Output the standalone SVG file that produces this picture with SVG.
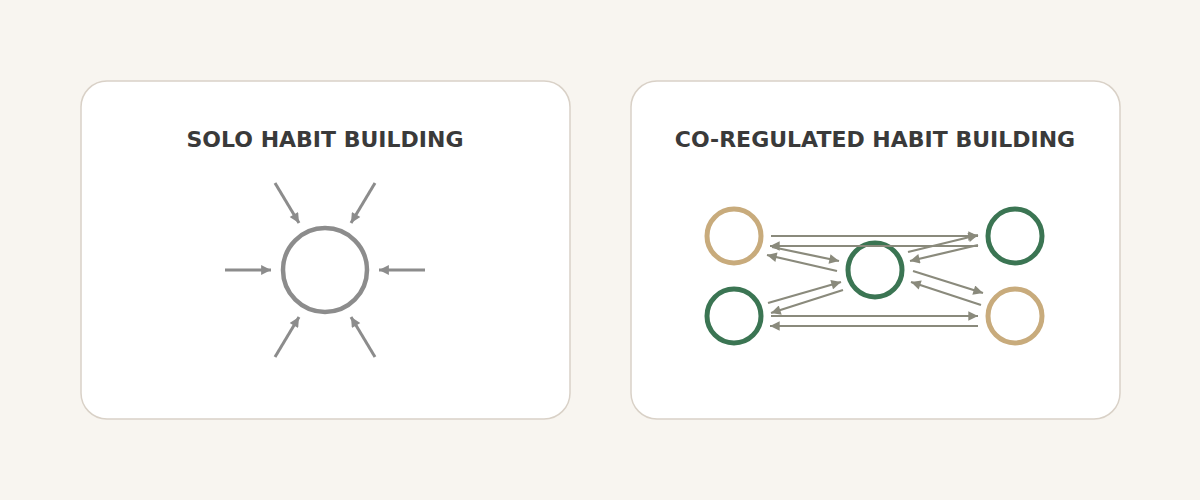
<svg xmlns="http://www.w3.org/2000/svg" width="1200" height="500" viewBox="0 0 1200 500">
<style>
.panel{fill:#ffffff;stroke:#d9d1c7;stroke-width:1.5}
.title{font-family:"DejaVu Sans",sans-serif;font-weight:bold;font-size:22px;fill:#3a3a3a;text-anchor:middle}
.solo{fill:none;stroke:#8c8c8c;stroke-width:4.5}
.sarrow{stroke:#8c8c8c;stroke-width:3;fill:none}
.tan{fill:none;stroke:#c8ab7c;stroke-width:5}
.green{fill:none;stroke:#3b7553;stroke-width:5}
.link{stroke:#8a8a7c;stroke-width:2.2;fill:none}
</style>
<defs>
<marker id="ah" viewBox="0 0 10 10" refX="10" refY="5" markerWidth="3.8" markerHeight="3.3" markerUnits="strokeWidth" orient="auto">
<path d="M0,0 L10,5 L0,10 z" fill="#8c8c8c"/>
</marker>
<marker id="ah2" viewBox="0 0 10 10" refX="10" refY="5" markerWidth="5.6" markerHeight="4.4" markerUnits="strokeWidth" orient="auto">
<path d="M0,0 L10,5 L0,10 z" fill="#8a8a7c"/>
</marker>
</defs>
<rect width="1200" height="500" fill="#f8f5f0"/>
<g id="panel-solo">
<rect class="panel" x="81" y="81" width="489" height="338" rx="26"/>
<text class="title" x="325" y="147">SOLO HABIT BUILDING</text>
</g>
<g id="panel-coreg">
<rect class="panel" x="631" y="81" width="489" height="338" rx="26"/>
<text class="title" x="875" y="147">CO-REGULATED HABIT BUILDING</text>
</g>
<g id="solo-self">
<circle class="solo" cx="325" cy="270" r="42"/>
</g>
<g id="solo-connectors">
<line class="sarrow" marker-end="url(#ah)" x1="225" y1="270" x2="271" y2="270"/>
<line class="sarrow" marker-end="url(#ah)" x1="425" y1="270" x2="379" y2="270"/>
<line class="sarrow" marker-end="url(#ah)" x1="275" y1="183" x2="299" y2="223"/>
<line class="sarrow" marker-end="url(#ah)" x1="375" y1="183" x2="351" y2="223"/>
<line class="sarrow" marker-end="url(#ah)" x1="275" y1="357" x2="299" y2="317"/>
<line class="sarrow" marker-end="url(#ah)" x1="375" y1="357" x2="351" y2="317"/>
</g>
<g id="node-tl"><circle class="tan" cx="734" cy="236" r="27"/></g>
<g id="node-bl"><circle class="green" cx="734" cy="316" r="27"/></g>
<g id="node-center"><circle class="green" cx="875" cy="270" r="27"/></g>
<g id="node-tr"><circle class="green" cx="1015" cy="236" r="27"/></g>
<g id="node-br"><circle class="tan" cx="1015" cy="316" r="27"/></g>
<g id="coreg-connectors">
<line class="link" marker-end="url(#ah2)" x1="771" y1="236" x2="978" y2="236"/>
<line class="link" marker-end="url(#ah2)" x1="978" y1="246" x2="770" y2="246"/>
<line class="link" marker-end="url(#ah2)" x1="771" y1="316" x2="978" y2="316"/>
<line class="link" marker-end="url(#ah2)" x1="978" y1="326" x2="770" y2="326"/>
<line class="link" marker-end="url(#ah2)" x1="772" y1="247" x2="839" y2="261"/>
<line class="link" marker-end="url(#ah2)" x1="837" y1="271" x2="767" y2="255"/>
<line class="link" marker-end="url(#ah2)" x1="908" y1="252" x2="978" y2="235"/>
<line class="link" marker-end="url(#ah2)" x1="978" y1="245" x2="910" y2="261"/>
<line class="link" marker-end="url(#ah2)" x1="913" y1="271" x2="983" y2="293"/>
<line class="link" marker-end="url(#ah2)" x1="981" y1="305" x2="911" y2="282"/>
<line class="link" marker-end="url(#ah2)" x1="768" y1="303" x2="841" y2="282"/>
<line class="link" marker-end="url(#ah2)" x1="843" y1="290" x2="771" y2="313"/>
</g>
</svg>
